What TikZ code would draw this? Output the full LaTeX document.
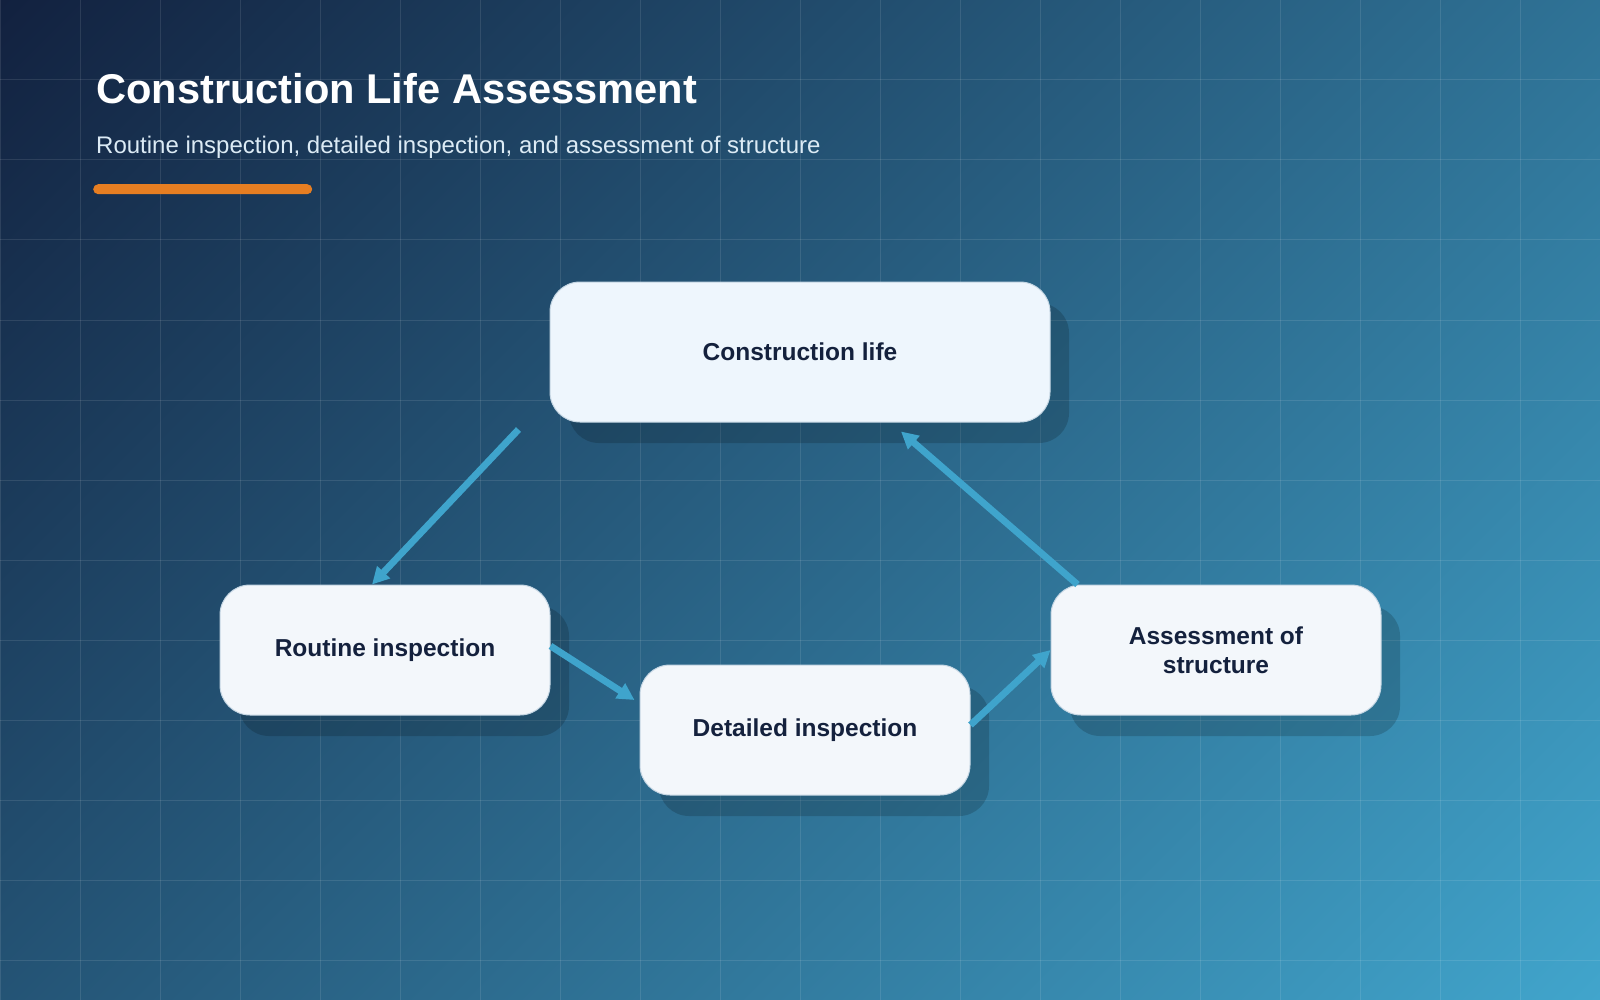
\documentclass[tikz,border=0pt]{standalone}
\usepackage{fontspec}
\setmainfont{Liberation Sans}
\usetikzlibrary{positioning,arrows.meta,shadows}

\definecolor{bgdark}{HTML}{12213F}
\definecolor{bglight}{HTML}{41A5CC}
\definecolor{boxfill}{HTML}{F3F7FB}
\definecolor{lifefill}{HTML}{EEF6FD}
\definecolor{boxline}{HTML}{C5D6E3}
\definecolor{boxtext}{HTML}{14213D}
\definecolor{flowblue}{HTML}{3FA4CC}
\definecolor{accent}{HTML}{E67E22}
\definecolor{subtext}{HTML}{DCEBF5}

\begin{document}
\begin{tikzpicture}
  [ x=1pt, y=-1pt,
    node distance=80pt and 415pt]
  \tikzset{
    base/.style={
      on grid,
      align=center,
      font={\fontsize{24.5}{29}\selectfont\bfseries},
      text=boxtext,
    },
    etape/.style={
      base,
      rectangle, rounded corners=30pt,
      fill=boxfill, draw=boxline, line width=1pt,
      minimum width=330pt, minimum height=130pt,
      drop shadow={shadow xshift=19pt, shadow yshift=-21pt, opacity=0.17, fill=black},
    },
    flow/.style={-{Triangle[length=17pt,width=17pt]}, line width=6.8pt, draw=flowblue},
    gridline/.style={white, opacity=0.1, line width=1pt},
  }

  \useasboundingbox (0,0) rectangle (1600,1000);
  \begin{scope}
    \clip (0,0) rectangle (1600,1000);
    \shade[left color=bgdark, right color=bglight,
      transform canvas={rotate around={-45:(800,500)}}]
      (-119,-419) rectangle (1719,1419);
  \end{scope}
  \foreach \gx in {0,80,...,1600}
    \draw[gridline] (\gx,0) -- (\gx,1000);
  \foreach \gy in {0,80,...,960}
    \draw[gridline] (0,\gy) -- (1600,\gy);

  \node[anchor=base west, inner sep=0pt, text=white,
    font={\fontsize{41.6}{50}\selectfont\bfseries}] (title) at (96,104)
    {Construction Life Assessment};
  \node[anchor=base west, inner sep=0pt, text=subtext,
    font={\fontsize{24}{29}\selectfont}] (subtitle) at (96,154)
    {Routine inspection, detailed inspection, and assessment of structure};
  \node[fill=accent, rounded corners=5pt, minimum width=219pt, minimum height=10pt,
    inner sep=0pt, anchor=north west] (accentbar) at (93,184) {};

  \node[etape, fill=lifefill, minimum width=500pt, minimum height=140pt] (life) at (800,352) {Construction life};
  \node[etape, below left=298pt and 415pt of life] (routine) {Routine inspection};
  \node[etape, below right=80pt and 420pt of routine] (detailed) {Detailed inspection};
  \node[etape, above right=80pt and 411pt of detailed] (assess) {Assessment of\\structure};

  \draw[flow] ([shift={(-31,7)}]life.south west) -- ([shift={(-13,0)}]routine.north);
  \draw[flow] ([shift={(0,-4)}]routine.east) -- ([shift={(-5,-30)}]detailed.west);
  \draw[flow] ([shift={(0,-5)}]detailed.east) -- (assess.west);
  \draw[flow] ([shift={(27,0)}]assess.north west) -- ([shift={(101,9)}]life.south);
\end{tikzpicture}
\end{document}
